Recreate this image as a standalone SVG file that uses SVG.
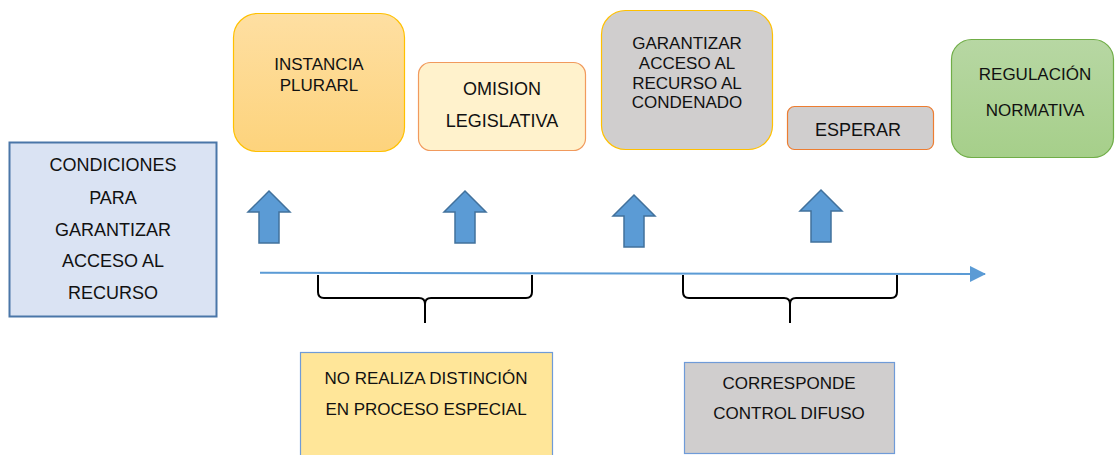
<svg xmlns="http://www.w3.org/2000/svg" width="1115" height="455" viewBox="0 0 1115 455">
<defs>
<linearGradient id="gOrange" x1="0" y1="0" x2="0" y2="1">
<stop offset="0" stop-color="#fedfa2"/>
<stop offset="1" stop-color="#fdd37c"/>
</linearGradient>
<linearGradient id="gGreen" x1="0" y1="0" x2="0" y2="1">
<stop offset="0" stop-color="#b7d7a3"/>
<stop offset="1" stop-color="#a6cf8a"/>
</linearGradient>
<marker id="tl" markerWidth="16" markerHeight="16" refX="15" refY="8" orient="auto" markerUnits="userSpaceOnUse">
<path d="M0,0 L16,8 L0,16 Z" fill="#5b9bd5"/>
</marker>
<path id="uparrow" d="M0,0 L21,21 L10,21 L10,52 L-10,52 L-10,21 L-21,21 Z"/>
</defs>
<style>
text{font-family:"Liberation Sans",Arial,sans-serif;fill:#111;text-anchor:middle;font-size:17px}
.big{font-size:18px}
.arrow{fill:#5b9bd5;stroke:#41719c;stroke-width:1.5}
.brace{fill:none;stroke:#000;stroke-width:2}
</style>
<g id="condiciones">
<rect x="9.5" y="142.5" width="207" height="174" fill="#dae3f3" stroke="#4a76a8" stroke-width="2"/>
<text class="big" x="113" y="171">CONDICIONES</text>
<text class="big" x="113" y="204">PARA</text>
<text class="big" x="113" y="236">GARANTIZAR</text>
<text class="big" x="113" y="267">ACCESO AL</text>
<text class="big" x="113" y="299">RECURSO</text>
</g>
<g id="instancia">
<rect x="233.5" y="13.5" width="171" height="138" rx="24" fill="url(#gOrange)" stroke="#ffc000" stroke-width="1.2"/>
<text x="319" y="70">INSTANCIA</text>
<text x="319" y="91">PLURARL</text>
</g>
<g id="omision">
<rect x="418.5" y="62.5" width="167" height="88" rx="12" fill="#fff2cc" stroke="#f19a5d" stroke-width="1.2"/>
<text class="big" x="502" y="94.5">OMISION</text>
<text class="big" x="502" y="126.5">LEGISLATIVA</text>
</g>
<g id="garantizar">
<rect x="601.5" y="10.5" width="171" height="139" rx="24" fill="#d0cece" stroke="#ffc000" stroke-width="1.2"/>
<text x="687" y="49">GARANTIZAR</text>
<text x="687" y="69">ACCESO AL</text>
<text x="687" y="88.5">RECURSO AL</text>
<text x="687" y="108">CONDENADO</text>
</g>
<g id="esperar">
<rect x="787.5" y="106.5" width="146" height="43" rx="7" fill="#d0cece" stroke="#ed7d31" stroke-width="1.2"/>
<text class="big" x="858" y="135.5">ESPERAR</text>
</g>
<g id="regulacion">
<rect x="951.5" y="39.5" width="162" height="118" rx="20" fill="url(#gGreen)" stroke="#70ad47" stroke-width="1.2"/>
<text x="1035" y="79.5">REGULACIÓN</text>
<text x="1035" y="115.5">NORMATIVA</text>
</g>
<g id="no-realiza">
<rect x="300.5" y="352.5" width="252" height="110" fill="#ffe699" stroke="#6f9bd8" stroke-width="1.2"/>
<text x="426" y="383.5">NO REALIZA DISTINCIÓN</text>
<text x="426" y="414.5">EN PROCESO ESPECIAL</text>
</g>
<g id="corresponde">
<rect x="684.5" y="362.5" width="210" height="91" fill="#d0cece" stroke="#6f9bd8" stroke-width="1.2"/>
<text x="789" y="389">CORRESPONDE</text>
<text x="789" y="419">CONTROL DIFUSO</text>
</g>
<g id="connectors">
<use href="#uparrow" class="arrow" transform="translate(269,191)"/>
<use href="#uparrow" class="arrow" transform="translate(465,191)"/>
<use href="#uparrow" class="arrow" transform="translate(634,195)"/>
<use href="#uparrow" class="arrow" transform="translate(821,190)"/>
<line x1="260" y1="272.8" x2="985" y2="274" stroke="#5b9bd5" stroke-width="2" marker-end="url(#tl)"/>
<path class="brace" d="M318,275 L318,292 Q318,298 324,298 L419,298 Q425,298 425,304 L425,323 M425,304 Q425,298 431,298 L526,298 Q532,298 532,292 L532,275"/>
<path class="brace" d="M683,275 L683,292 Q683,298 689,298 L784,298 Q790,298 790,304 L790,323 M790,304 Q790,298 796,298 L891,298 Q897,298 897,292 L897,275"/>
</g>
</svg>
